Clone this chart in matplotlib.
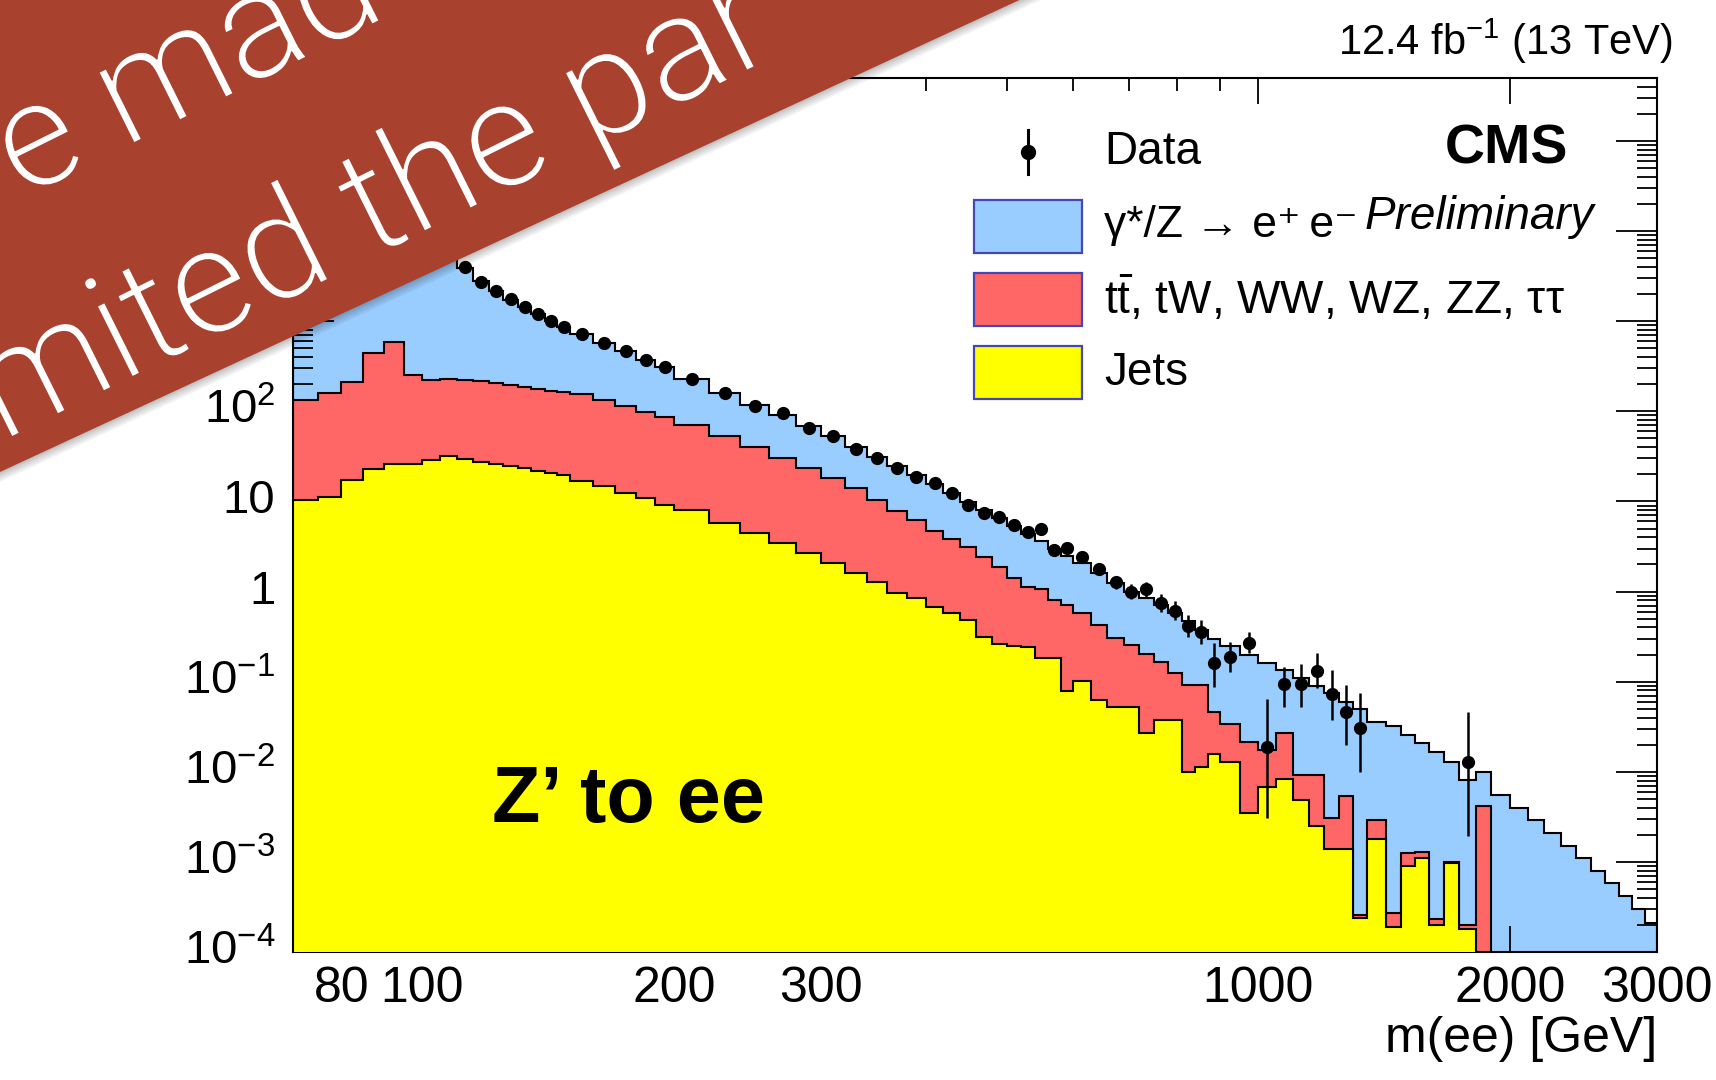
import numpy as np
import matplotlib
matplotlib.use("Agg")
import matplotlib.pyplot as plt
from matplotlib.patches import Polygon, Rectangle
from matplotlib.lines import Line2D
from matplotlib.ticker import FixedLocator, NullFormatter, LogLocator
from matplotlib import font_manager
import matplotlib.patheffects as pe

# ---------------------------------------------------------------- data
mass_edges = [70, 75, 80, 85, 90, 95, 100, 105, 110, 115, 120, 125, 130, 135, 140, 145, 150,
              160, 170, 180, 190, 200,
              220, 240, 260, 280, 300, 320, 340, 360, 380, 400, 420, 440, 460, 480, 500,
              520, 540, 560, 580, 600,
              630, 660, 690, 720, 750, 780, 810, 840, 870, 900,
              950, 1000, 1050, 1100, 1150, 1200, 1250, 1300, 1350,
              1420, 1480, 1540, 1600, 1670, 1740, 1820, 1900,
              2000, 2100, 2200, 2300, 2400, 2500, 2600, 2700, 2800, 2900, 3000]

# observed events / GeV (nan = empty bin)
nan = float("nan")
data_obs = [2600, 4300, 9500, 55000, 130000, 28000, 10500, 5900,
            3970, 2750, 2170, 1750, 1430, 1195, 1016, 871,
            723, 578, 464, 372, 310,
            227, 159, 116, 95, 64.9, 53.3, 37.9, 30.1, 23.3, 18.6, 16.2, 12.5, 9.15, 7.5,
            6.78, 5.48, 4.62, 4.91, 2.90, 3.03,
            2.40, 1.78, 1.27, 1.00, 1.06, 0.754, 0.614, 0.415, 0.359, 0.160,
            0.189, 0.267, 0.0187, 0.0942, 0.0942, 0.1325, 0.073, 0.0465, 0.0304,
            nan, nan, nan, nan, nan, nan, 0.0129,
            nan, nan, nan, nan, nan, nan, nan, nan, nan, nan, nan, nan]

# error bar ends (events / GeV) for the bins from 600 GeV upwards
data_band_low = [2.12, 1.54, 1.07, 0.83, 0.88, 0.60, 0.48, 0.31, 0.26, 0.088,
                 0.129, 0.207, 0.0031, 0.0528, 0.0528, 0.0845, 0.0376, 0.0198, 0.010,
                 nan, nan, nan, nan, nan, nan, 0.00193,
                 nan, nan, nan, nan, nan, nan, nan, nan, nan, nan, nan, nan]
data_band_high = [2.70, 2.05, 1.50, 1.20, 1.27, 0.94, 0.78, 0.55, 0.48, 0.267,
                  0.278, 0.359, 0.0638, 0.1466, 0.159, 0.207, 0.135, 0.0919, 0.0743,
                  nan, nan, nan, nan, nan, nan, 0.0455,
                  nan, nan, nan, nan, nan, nan, nan, nan, nan, nan, nan, nan]

# stacked expectation, events / GeV: jets, jets + ttbar-like, jets + ttbar-like + DY
stack_jets = [10.4, 11.2, 17.5, 23.0, 26.0, 26.3, 28.5, 32.3,
              29.5, 27.5, 26.3, 25.0, 23.5, 21.5, 20.5, 19.5,
              17.0, 14.8, 12.5, 10.8, 9.14,
              8.05, 5.73, 4.44, 3.44, 2.70, 2.06, 1.60, 1.29, 0.957, 0.843, 0.68, 0.574, 0.484, 0.316,
              0.26, 0.25, 0.245, 0.184, 0.184, 0.078,
              0.101, 0.063, 0.053, 0.053, 0.0266, 0.0376, 0.0376, 0.0099, 0.0112, 0.0158,
              0.0128, 0.0035, 0.0067, 0.0083, 0.0048, 0.0025, 0.0014, 0.0014, 0.00024,
              0.0018, 0.00019, 0.0009, 0.0011, 0.0002, 0.00097, 0.00018, 0,
              0, 0, 0, 0, 0, 0, 0, 0, 0, 0, 0]
stack_jets_ewk = [134, 160, 210, 442, 594, 254, 223, 226,
                  222, 215, 206, 196, 187, 178, 170, 163,
                  156, 134, 116, 99, 87,
                  71, 53.3, 40.6, 30.6, 23.3, 18.1, 14.0, 10.4, 7.9, 6.24, 4.75, 3.8, 3.1, 2.4,
                  1.89, 1.41, 1.135, 1.06, 0.807, 0.71,
                  0.583, 0.426, 0.303, 0.255, 0.203, 0.167, 0.124, 0.0926, 0.0926, 0.0465,
                  0.0343, 0.0214, 0.0175, 0.0266, 0.0091, 0.0091, 0.0031, 0.0054, 0.00026,
                  0.0029, 0.00027, 0.00125, 0.0013, 0.00023, 0.001, 0.0002, 0.0042,
                  0, 0, 0, 0, 0, 0, 0, 0, 0, 0, 0]
stack_total = [3000, 5000, 12000, 60000, 140000, 30000, 11000, 6000,
               3900, 2760, 2150, 1740, 1420, 1190, 1010, 870,
               720, 575, 462, 375, 310,
               228, 160, 117, 90, 68, 53, 40, 31.5, 24.5, 19.5, 15.5, 12.4, 9.9, 8.0,
               6.5, 5.3, 4.4, 3.6, 3.0, 2.5,
               2.06, 1.6, 1.25, 1.0, 0.85, 0.71, 0.574, 0.472, 0.375, 0.30,
               0.25, 0.20, 0.16, 0.135, 0.11, 0.09, 0.075, 0.06, 0.05,
               0.036, 0.0325, 0.0256, 0.0207, 0.0167, 0.013, 0.0081, 0.0100,
               0.0055, 0.0040, 0.0029, 0.0021, 0.0015, 0.0011, 0.0008, 0.00058, 0.00042, 0.0003, 0.00021]

x_long_ticks = [100, 200, 1000, 2000]
x_short_ticks = [80, 90, 300, 400, 500, 600, 700, 800, 900, 3000]
x_tick_labels = [80, 100, 200, 300, 1000, 2000, 3000]
y_decades = [-4, -3, -2, -1, 0, 1, 2, 3, 4, 5]

legend_entries = ["Data",
                  "\u03b3*/Z \u2192 e\u207a\u2009e\u207b",
                  "t$\\bar{\\mathrm{t}}$, tW, WW, WZ, ZZ, \u03c4\u03c4",
                  "Jets"]
legend_sizes = [33, 32, 33, 33]

# ---------------------------------------------------------------- style
W, H = 1716, 1080
BLUE, RED, YELLOW = "#99ccff", "#ff6666", "#ffff00"
BANNER = "#a9412f"

plt.rcParams["font.family"] = ["Liberation Sans", "DejaVu Sans"]
plt.rcParams["mathtext.fontset"] = "custom"
plt.rcParams["mathtext.rm"] = "Liberation Sans"
plt.rcParams["mathtext.it"] = "Liberation Sans:italic"
plt.rcParams["mathtext.bf"] = "Liberation Sans:bold"


def fx(x):
    return x / W


def fy(y):
    return 1 - y / H


def light_font(size):
    for fam in ["Roboto", "Lato", "Open Sans", "Inter", "Noto Sans"]:
        cands = [f for f in font_manager.fontManager.ttflist
                 if f.name == fam and f.style == "normal"
                 and isinstance(f.weight, int) and f.weight <= 300]
        if cands:
            cands.sort(key=lambda f: abs(f.weight - 300))
            return font_manager.FontProperties(fname=cands[0].fname, size=size)
    return font_manager.FontProperties(family="DejaVu Sans", weight="light", size=size)


fig = plt.figure(figsize=(W / 100, H / 100), dpi=100)
ax = fig.add_axes([fx(293), fy(952), (1657 - 293) / W, (952 - 78) / H])
ax.set_xscale("log")
ax.set_yscale("log")

edges = np.array(mass_edges, float)
centers = 0.5 * (edges[1:] + edges[:-1])
floor = 1e-7


def level(v):
    v = np.asarray(v, float)
    return np.where(v > 0, v, floor)


for vals, col, z in [(stack_total, BLUE, 1), (stack_jets_ewk, RED, 2), (stack_jets, YELLOW, 3)]:
    lv = level(vals)
    ax.stairs(lv, edges, baseline=floor, fill=True, color=col, lw=0, zorder=z)
    ax.stairs(lv, edges, baseline=floor, fill=False, color="black", lw=1.5, zorder=z + 0.5)

obs = np.array(data_obs, float)
n_low = len(obs) - len(data_band_low)
lo_band = np.concatenate([obs[:n_low], np.array(data_band_low, float)])
hi_band = np.concatenate([obs[:n_low], np.array(data_band_high, float)])
m = ~np.isnan(obs)
yerr = np.vstack([obs[m] - lo_band[m], hi_band[m] - obs[m]])
ax.errorbar(centers[m], obs[m], yerr=yerr, fmt="o", ms=8.5, color="black",
            elinewidth=1.8, capsize=0, zorder=6)

ax.set_xlim(70, 3000)
ax.set_ylim(1e-4, 5e5)

ax.xaxis.set_major_locator(FixedLocator(x_long_ticks))
ax.xaxis.set_minor_locator(FixedLocator(x_short_ticks))
ax.xaxis.set_major_formatter(NullFormatter())
ax.xaxis.set_minor_formatter(NullFormatter())
ax.yaxis.set_major_locator(LogLocator(base=10, numticks=20))
ax.yaxis.set_minor_locator(LogLocator(base=10, subs=np.arange(2, 10), numticks=20))
ax.yaxis.set_major_formatter(NullFormatter())
ax.yaxis.set_minor_formatter(NullFormatter())
ax.tick_params(axis="x", which="major", length=18.7, width=1.3, direction="in", top=True, bottom=True)
ax.tick_params(axis="x", which="minor", length=9.4, width=1.3, direction="in", top=True, bottom=True)
ax.tick_params(axis="y", which="major", length=29.5, width=1.3, direction="in", left=True, right=True)
ax.tick_params(axis="y", which="minor", length=14.5, width=1.3, direction="in", left=True, right=True)
for sp in ax.spines.values():
    sp.set_linewidth(1.5)

# tick labels
xt = ax.get_xaxis_transform()
for v in x_tick_labels:
    ax.text(v, -0.016, str(v), transform=xt, ha="center", va="top", fontsize=36, clip_on=False)
yt = ax.get_yaxis_transform()
for k in y_decades:
    if k == 0:
        s = "1"
    elif k == 1:
        s = "10"
    else:
        s = r"$10^{%d}$" % k
    ax.text(-0.013, 10.0 ** k, s, transform=yt, ha="right", va="center", fontsize=34, clip_on=False)

fig.text(fx(1657), fy(1052), "m(ee) [GeV]", ha="right", va="baseline", fontsize=36)
fig.text(fx(175), fy(80), "Events / GeV", rotation=90, ha="center", va="top", fontsize=32)

fig.text(fx(1673), fy(55), r"12.4 fb$^{-1}$ (13 TeV)", ha="right", va="baseline", fontsize=30)
fig.text(fx(1568), fy(163), "CMS", ha="right", va="baseline", fontsize=40, fontweight="bold")
fig.text(fx(1594), fy(229), "Preliminary", ha="right", va="baseline", fontsize=33, fontstyle="italic")
fig.text(fx(492), fy(822), "Z\u2019 to ee", ha="left", va="baseline", fontsize=57, fontweight="bold")

# legend
fig.add_artist(Line2D([fx(1028), fx(1028)], [fy(130), fy(174)], color="black", lw=2.2))
fig.add_artist(Line2D([fx(1028)], [fy(152)], marker="o", ms=10, color="black"))
rows = [152, 226, 299, 373]
for col, yc in zip([BLUE, RED, YELLOW], rows[1:]):
    fig.add_artist(Rectangle((fx(974), fy(yc + 26.5)), (1082 - 974) / W, 53 / H,
                             facecolor=col, edgecolor="#4646b4", lw=1.6))
for txt, yc, fs in zip(legend_entries, rows, legend_sizes):
    fig.text(fx(1104), fy(yc), txt, ha="left", va="center", fontsize=fs)

# banner across the upper-left corner
slope, y0 = 0.463, 472.0
ang = np.degrees(np.arctan(slope))
nrm = np.array([np.sin(np.radians(ang)), np.cos(np.radians(ang))])


def banner_poly(off):
    pts = [(-300, y0 + 300 * slope), (1400, y0 - 1400 * slope), (-300, -900)]
    return [(fx(x + off * nrm[0]), fy(y + off * nrm[1])) for x, y in pts]


for off in [9, 7, 5, 3, 1.5]:
    fig.add_artist(Polygon(banner_poly(off), closed=True, facecolor="black",
                           edgecolor="none", alpha=0.05, zorder=9))
fig.add_artist(Polygon(banner_poly(0), closed=True, facecolor=BANNER,
                       edgecolor="none", zorder=10))

text_ang = 26.5
bfont = light_font(108)
thin = [pe.Stroke(linewidth=1.2, foreground=BANNER)]
fig.text(fx(22), fy(199), "e mad", rotation=text_ang, rotation_mode="anchor",
         ha="left", va="baseline", color="white", fontproperties=bfont, zorder=11,
         path_effects=thin)
fig.text(fx(2), fy(442), "mited the par", rotation=text_ang, rotation_mode="anchor",
         ha="left", va="baseline", color="white", fontproperties=bfont, zorder=11,
         path_effects=thin)

fig.savefig("out.png", dpi=100)
